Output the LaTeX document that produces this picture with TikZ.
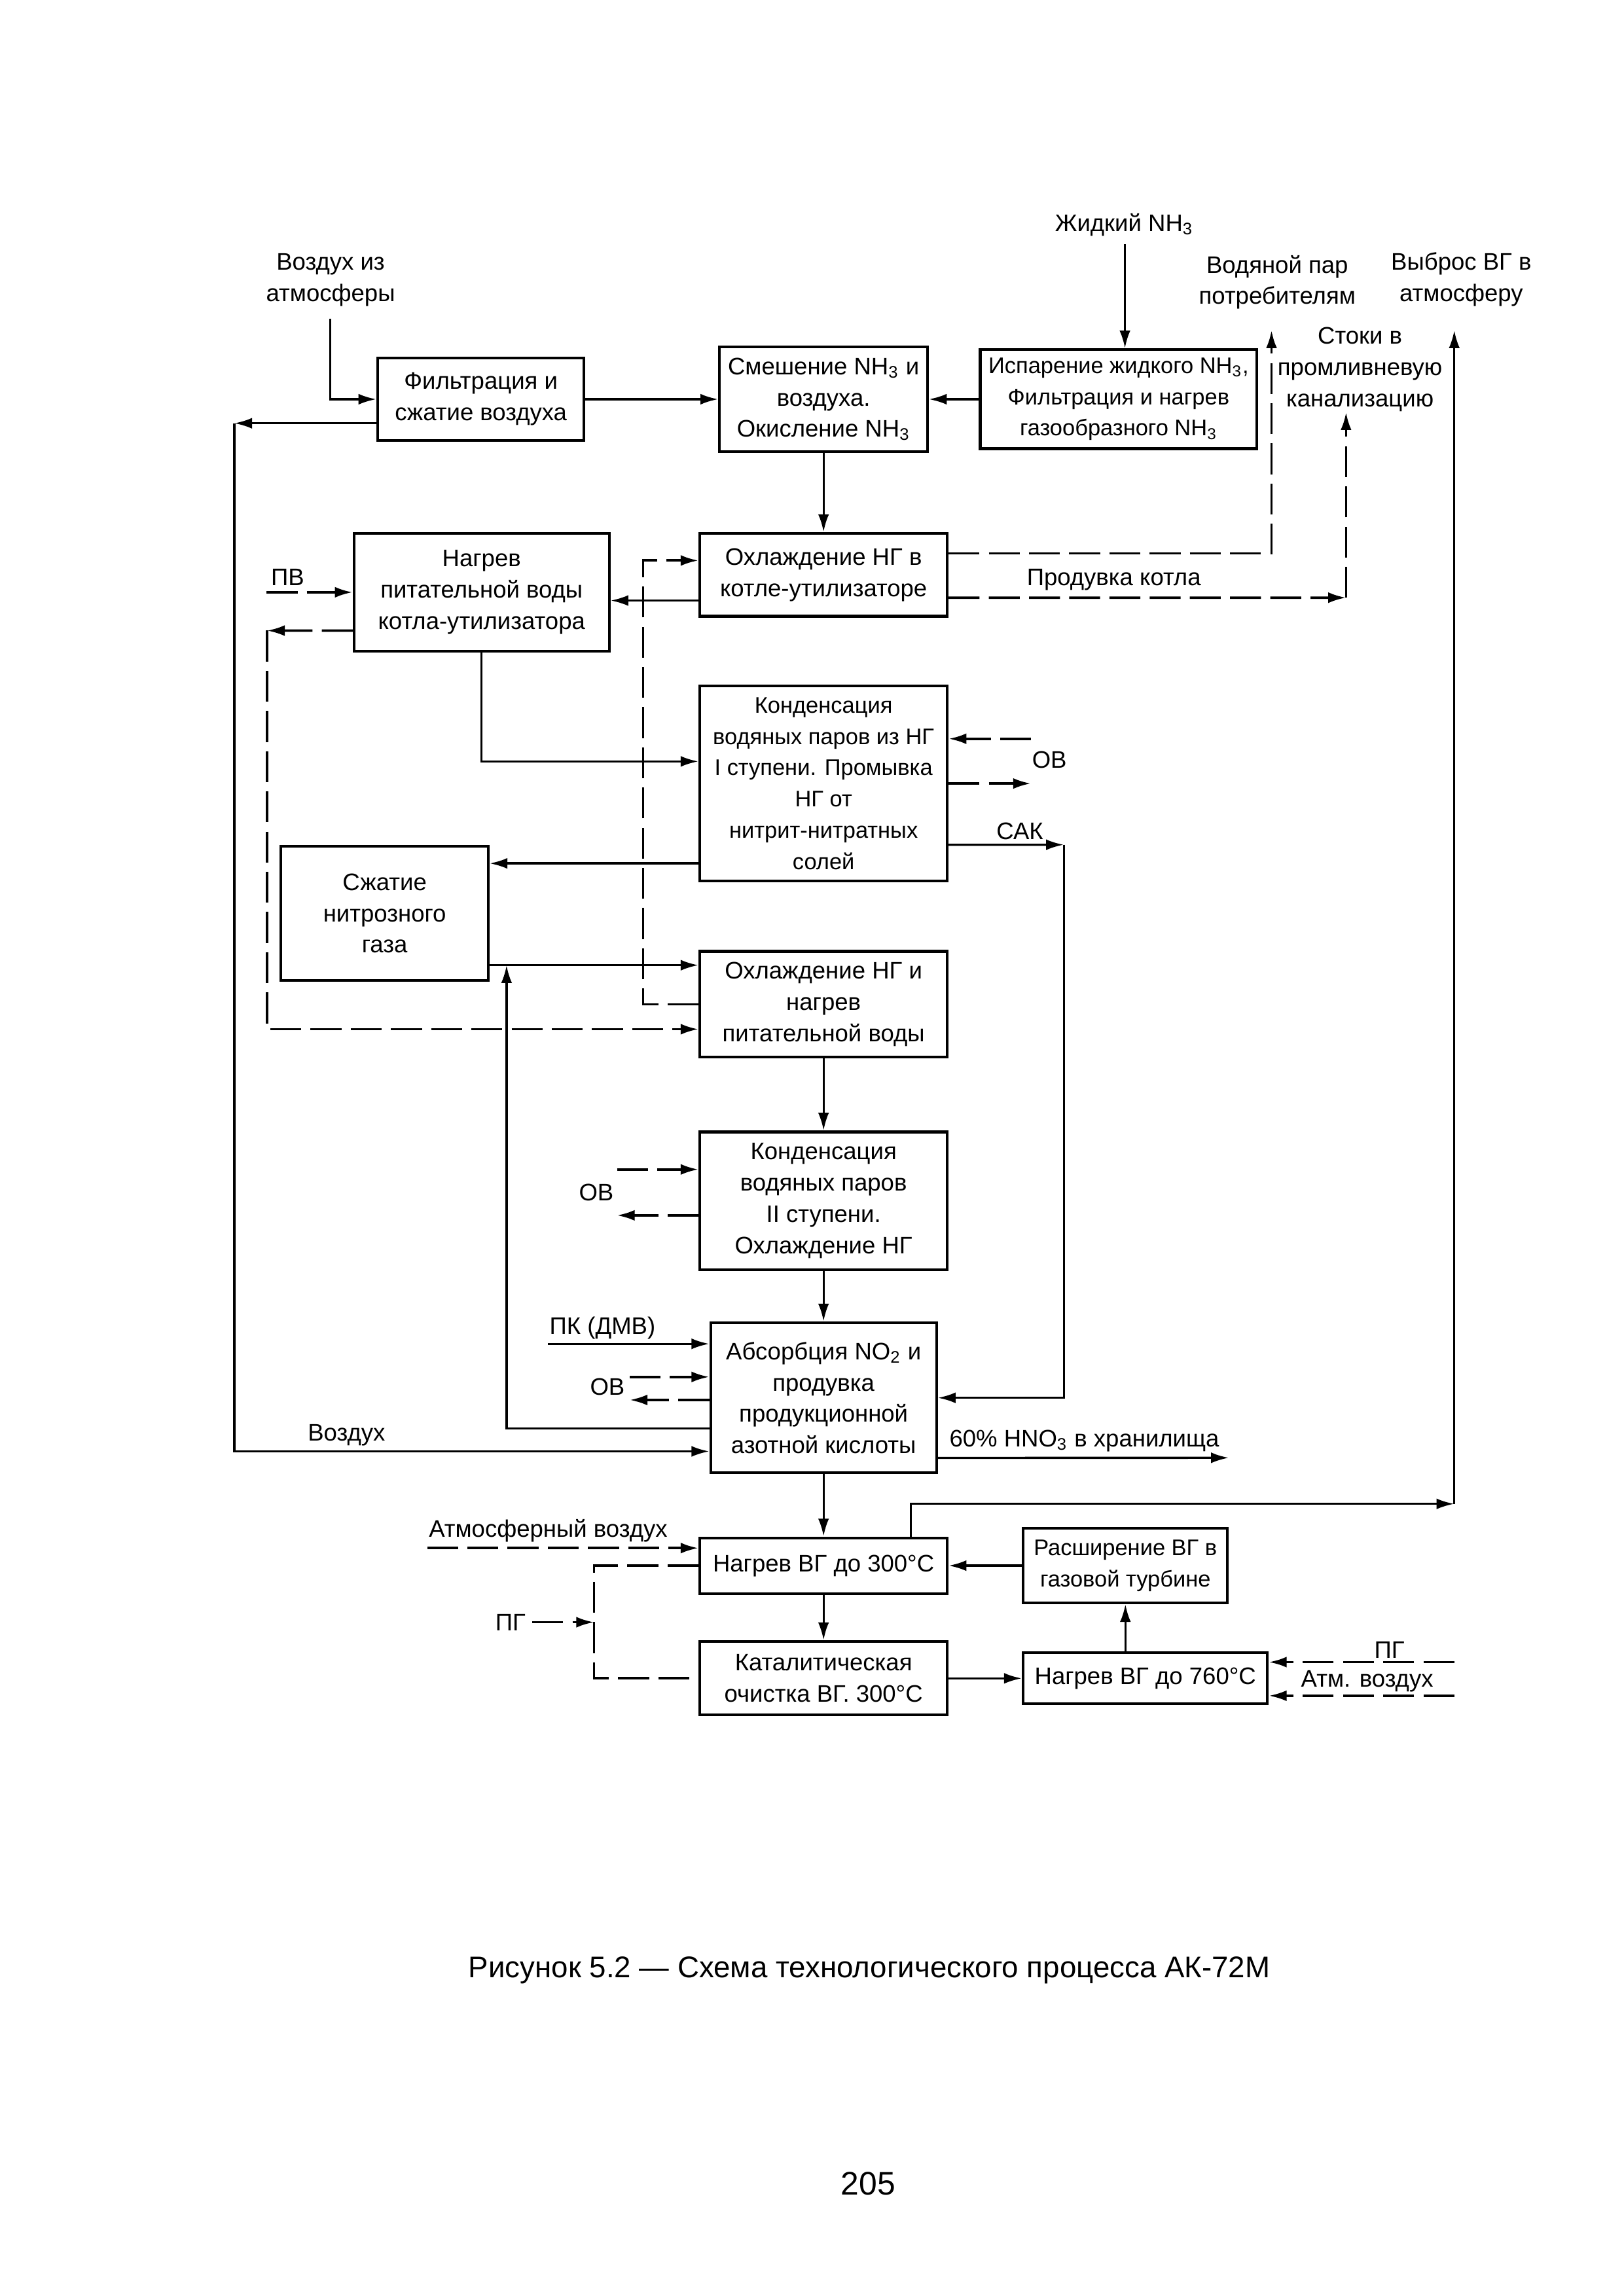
\documentclass[tikz,border=0pt]{standalone}
\usepackage{fontspec}
\setmainfont{Liberation Sans}
\usetikzlibrary{arrows.meta}
\usetikzlibrary{positioning}
\usetikzlibrary{calc}
\newcommand{\chemsub}[1]{\textsubscript{#1}}

\begin{document}
\begin{tikzpicture}[x = 1mm, y = -1mm, > = {Latex[length = 2.3mm, width = 1.4mm]}, font = \fontsize{8.8}{11.5}\selectfont]
\tikzset{
  block/.style = {draw, line width = 1pt, rectangle, align = center, inner sep = 0pt},
  small/.style = {font = \fontsize{8.3}{11.5}\selectfont},
  flow/.style = {line width = 0.8pt},
  dflow/.style = {line width = 0.9pt, dash pattern = on 4mm off 1.2mm},
  lbl/.style = {align = center, inner sep = 0pt},
}
\useasboundingbox (0,0) rectangle (210,297);
% main column
\node [block, minimum width = 26.9mm, minimum height = 13.5mm] (mix) at (106.52, 51.64) {Смешение NH\chemsub{3} и\\воздуха.\\Окисление NH\chemsub{3}};
\node [block, left of = mix, node distance = 44.32mm, minimum width = 26.7mm, minimum height = 10.7mm] (filter) {Фильтрация и\\сжатие воздуха};
\node [block, small, right of = mix, node distance = 38.16mm, minimum width = 35.8mm, minimum height = 12.8mm] (evap) {Испарение жидкого NH\chemsub{3},\\Фильтрация и нагрев\\газообразного NH\chemsub{3}};
\node [block, below of = mix, node distance = 22.72mm, minimum width = 32mm, minimum height = 10.7mm] (coolB) {Охлаждение НГ в\\котле-утилизаторе};
\node [block, minimum width = 33mm, minimum height = 15.2mm] (heatW) at (62.29, 76.61) {Нагрев\\питательной воды\\котла-утилизатора};
\node [block, small, below of = coolB, node distance = 26.99mm, minimum width = 32mm, minimum height = 25.2mm] (condI) {Конденсация\\водяных паров из НГ\\I ступени. Промывка\\НГ от\\нитрит-нитратных\\солей};
\node [block, minimum width = 26.8mm, minimum height = 17.4mm] (compress) at (49.75, 118.15) {Сжатие\\нитрозного\\газа};
\node [block, below of = condI, node distance = 28.56mm, minimum width = 32mm, minimum height = 13.7mm] (cool2) {Охлаждение НГ и\\нагрев\\питательной воды};
\node [block, below of = cool2, node distance = 25.41mm, minimum width = 32mm, minimum height = 17.8mm] (condII) {Конденсация\\водяных паров\\II ступени.\\Охлаждение НГ};
\node [block, below of = condII, node distance = 25.49mm, minimum width = 29.2mm, minimum height = 19.4mm] (absorb) {Абсорбция NO\chemsub{2} и\\продувка\\продукционной\\азотной кислоты};
\node [block, below of = absorb, node distance = 21.71mm, minimum width = 32mm, minimum height = 7.2mm] (heat300) {Нагрев ВГ до 300°С};
\node [block, below of = heat300, node distance = 14.58mm, minimum width = 32mm, minimum height = 9.5mm] (catal) {Каталитическая\\очистка ВГ. 300°С};
\node [block, small, right of = heat300, node distance = 39.04mm, minimum width = 26.4mm, minimum height = 9.6mm] (exp) {Расширение ВГ в\\газовой турбине};
\node [block, right of = catal, node distance = 41.62mm, minimum width = 31.6mm, minimum height = 6.6mm] (heat760) {Нагрев ВГ до 760°С};
% labels
\node [lbl] (airLabel) at (42.76, 36.18) {Воздух из\\атмосферы};
\node [lbl] (nh3Label) at (145.41, 29.09) {Жидкий NH\chemsub{3}};
\node [lbl] (steamLabel) at (165.2, 36.5) {Водяной пар\\потребителям};
\node [lbl] (exhLabel) at (189.0, 36.16) {Выброс ВГ в\\атмосферу};
\node [lbl] (drainLabel) at (175.9, 47.8) {Стоки в\\промливневую\\канализацию};
\node [lbl] (pvLabel) at (37.2, 74.64) {ПВ};
\node [lbl] (blowLabel) at (144.07, 75.02) {Продувка котла};
\node [lbl] (ovLabelA) at (135.73, 98.26) {ОВ};
\node [lbl] (cakLabel) at (131.91, 107.48) {САК};
\node [lbl] (ovLabelB) at (77.12, 154.25) {ОВ};
\node [lbl] (pkLabel) at (77.93, 171.81) {ПК (ДМВ)};
\node [lbl] (ovLabelC) at (78.56, 179.37) {ОВ};
\node [lbl] (airBackLabel) at (44.82, 185.67) {Воздух};
\node [lbl] (hno3Label) at (140.25, 186.38) {60\% HNO\chemsub{3} в хранилища};
\node [lbl] (atmLabel) at (70.9, 197.96) {Атмосферный воздух};
\node [lbl] (pgLeft) at (66.03, 209.84) {ПГ};
\node [lbl] (pgRight) at (179.7, 213.39) {ПГ};
\node [lbl] (atmRight) at (176.83, 217.44) {Атм. воздух};
\node [lbl, font = \fontsize{11}{13}\selectfont] (caption) at (112.44, 254.85) {Рисунок 5.2 — Схема технологического процесса АК-72М};
\node [lbl, font = \fontsize{12}{14}\selectfont] (pageNum) at (112.31, 282.46) {205};
% free ends
\coordinate (airTop) at (42.7, 41.2);
\coordinate (airCorner) at (30.3, 54.75);
\coordinate (nh3Top) at (145.5, 31.6);
\coordinate (steamTop) at (164.46, 42.72);
\coordinate (blowTurn) at (174.1, 77.31);
\coordinate (drainTop) at (174.1, 53.32);
\coordinate (exhTurn) at (188.1, 194.53);
\coordinate (exhTop) at (188.1, 42.72);
\coordinate (pvIn) at (34.48, 76.61);
\coordinate (fwTurn) at (34.53, 81.57);
\coordinate (loopTop) at (83.19, 72.5);
\coordinate (ovInA) at (133.34, 95.56);
\coordinate (ovOutA) at (133.34, 101.35);
\coordinate (cakTurn) at (137.6, 109.27);
\coordinate (recycle) at (65.52, 124.85);
\coordinate (ovInB) at (79.8, 151.27);
\coordinate (ovOutB) at (79.8, 157.21);
\coordinate (pkIn) at (70.9, 173.83);
\coordinate (ovInC) at (81.44, 178.11);
\coordinate (ovOutC) at (81.44, 181.09);
\coordinate (hno3Out) at (158.94, 188.57);
\coordinate (atmIn) at (55.25, 200.25);
\coordinate (pgJoin) at (76.84, 209.84);
\coordinate (pgIn) at (188.1, 215.0);
\coordinate (atmIn2) at (188.1, 219.35);
\coordinate (toHeatW) at ([yshift = -3.32mm] coolB.west);
\coordinate (toComp) at ([yshift = -10.33mm] condI.west);
\coordinate (toCool) at ([yshift = 5.06mm] cool2.west);
% solid lines
\draw [flow, ->] (airTop) |- (filter.west);
\draw [flow, ->] (filter) -- (mix);
\draw [flow, ->] (evap) -- (mix);
\draw [flow, ->] (nh3Top) -- (nh3Top |- evap.north);
\draw [flow, ->] (filter.west |- airCorner) -- (airCorner);
\draw [flow, ->] (airCorner) |- ([yshift = -6.93mm] absorb.west);
\draw [flow, ->] (mix) -- (coolB);
\draw [flow, ->] (toHeatW) -- (toHeatW -| heatW.east);
\draw [flow, ->] (heatW.south) |- ([yshift = 2.86mm] condI.west);
\draw [flow, ->] (toComp) -- (toComp -| compress.east);
\draw [flow, ->] (toCool -| compress.east) -- (toCool);
\draw [flow, ->] ([yshift = -3.95mm] absorb.west) -| (recycle);
\draw [flow, ->] (cool2) -- (condII);
\draw [flow, ->] (condII) -- (absorb);
\draw [flow, ->] (absorb) -- (heat300);
\draw [flow, ->] (heat300) -- (catal);
\draw [flow, ->] ([yshift = -7.92mm] condI.east) -- (cakTurn);
\draw [flow, ->] (cakTurn) |- (absorb.east);
\draw [flow, ->] ([yshift = -7.77mm] absorb.east) -- (hno3Out);
\draw [flow, ->] (pkIn) -- (pkIn -| absorb.west);
\draw [flow, ->] ([xshift = 11.27mm] heat300.north) |- (exhTurn);
\draw [flow, ->] (exhTurn) -- (exhTop);
\draw [flow, ->] (exp.west) -- (exp.west -| heat300.east);
\draw [flow, ->] (catal) -- (heat760);
\draw [flow, ->] (heat760.north -| exp) -- (exp.south);
% dashed lines
\draw [dflow, ->] ([yshift = 2.77mm] coolB.east) -| (steamTop);
\draw [dflow, ->] ([yshift = -2.95mm] coolB.east) -- (blowTurn);
\draw [dflow, ->] (blowTurn) -- (drainTop);
\draw [dflow, ->] (cool2.west) -| (loopTop) -- (loopTop -| coolB.west);
\draw [dflow, ->] (pvIn) -- (heatW.west);
\draw [dflow, ->] ([yshift = -4.96mm] heatW.west) -- (fwTurn);
\draw [dflow, ->] (fwTurn) |- ([yshift = -3.22mm] cool2.west);
\draw [dflow, ->] (ovInA) -- (ovInA -| condI.east);
\draw [dflow, ->] (ovOutA -| condI.east) -- (ovOutA);
\draw [dflow, ->] (ovInB) -- (ovInB -| condII.west);
\draw [dflow, ->] (ovOutB -| condII.west) -- (ovOutB);
\draw [dflow, ->] (ovInC) -- (ovInC -| absorb.west);
\draw [dflow, ->] (ovOutC -| absorb.west) -- (ovOutC);
\draw [dflow, ->] (atmIn) -- (atmIn -| heat300.west);
\draw [dflow] (heat300.west) -| (pgJoin) |- (catal.west);
\draw [dflow, ->] ([xshift = 0.8mm] pgLeft.east) -- (pgJoin);
\draw [dflow, ->] (pgIn) -- (pgIn -| heat760.east);
\draw [dflow, ->] (atmIn2) -- (atmIn2 -| heat760.east);
\end{tikzpicture}
\end{document}
